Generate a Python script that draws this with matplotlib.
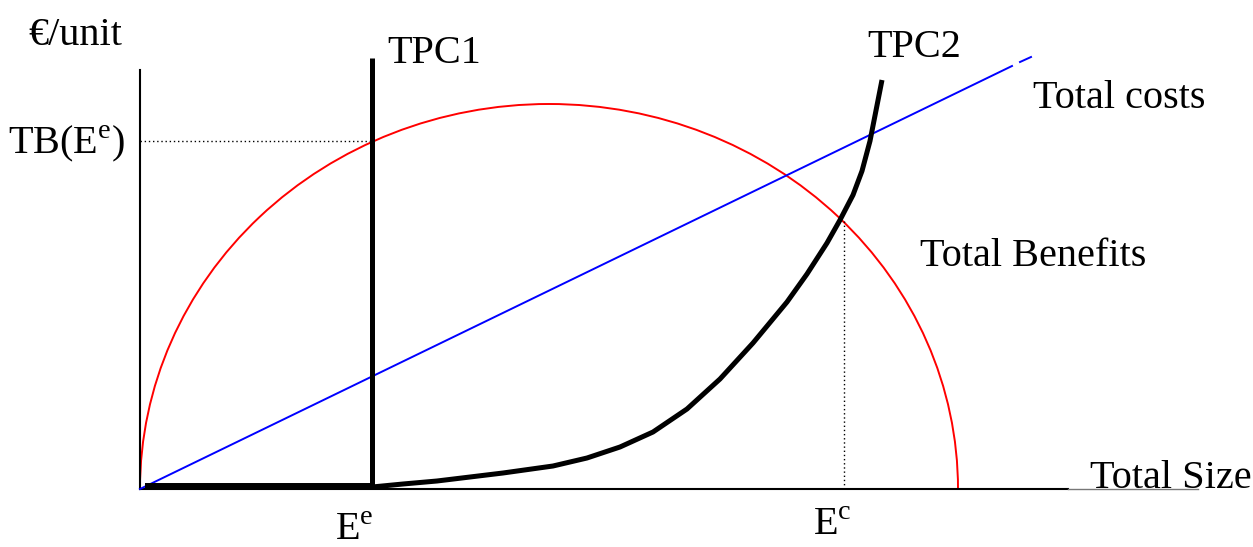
import matplotlib
matplotlib.use('Agg')
from matplotlib import pyplot as plt
from matplotlib.patches import Arc

plt.rcParams['font.family'] = ['Liberation Serif', 'DejaVu Serif']
plt.rcParams['mathtext.fontset'] = 'custom'
plt.rcParams['mathtext.rm'] = 'Liberation Serif'

# values (origin = where the two axes meet)
x_max = 928
y_max = 419
e_e = 232          # position of TPC1 / E^e
e_c = 704          # position of E^c
tb_ee = 348        # TB(E^e)
tb_center = 409
tb_halfwidth = 409
tb_height = 385
cost_x = [0, 872]
cost_y = [0, 423]
cost_tail_x = [880, 891]
cost_tail_y = [427, 432]
tpc1_top = 431
tpc2_x = [232, 263, 297, 330, 363, 413, 447, 480, 513, 547, 580, 613, 647, 667, 687, 700, 713, 722, 730, 742]
tpc2_y = [2, 5, 8, 12, 16, 23, 31, 42, 57, 80, 110, 146, 187, 215, 246, 269, 294, 318, 348, 409]
tb_ec = 268

fig = plt.figure(figsize=(12.53, 5.47), dpi=100)
ax = fig.add_axes([0, 0, 1, 1])
ax.set_xlim(-140, 1113)
ax.set_ylim(-58, 489)
ax.axis('off')

# axes
ax.plot([0, 0], [0, y_max], color='black', lw=1.5)
ax.plot([0, x_max], [0, 0], color='black', lw=1.5)
ax.plot([x_max, 1058], [0, 0], color='#777777', lw=1)

# total benefits (half ellipse)
ax.add_patch(Arc((tb_center, 0), 2 * tb_halfwidth, 2 * tb_height, theta1=0, theta2=180,
                 color='red', lw=1.4))

# total costs
ax.plot(cost_x, cost_y, color='blue', lw=1.4)
ax.plot(cost_tail_x, cost_tail_y, color='blue', lw=1.4)

# dotted guides
ax.plot([0, e_e], [tb_ee, tb_ee], color='black', lw=1, ls=(0, (1, 2)))
ax.plot([e_c, e_c], [0, tb_ec], color='black', lw=1, ls=(0, (1, 2)))

# TPC1 and TPC2
ax.plot([5, e_e], [3, 3], color='black', lw=4.3, solid_capstyle='butt')
ax.plot([e_e, e_e], [0, tpc1_top], color='black', lw=3.6, solid_capstyle='butt')
ax.plot(tpc2_x, tpc2_y, color='black', lw=3.6, solid_joinstyle='round', solid_capstyle='butt')

fs = 29
ax.text(-112, 444, '€/unit', fontsize=fs, ha='left', va='baseline')
ax.text(-132, 336, r'TB(E$^{\mathrm{e}}$)', fontsize=fs, ha='left', va='baseline')
ax.text(247, 426, 'TPC1', fontsize=fs, ha='left', va='baseline')
ax.text(727, 432, 'TPC2', fontsize=fs, ha='left', va='baseline')
ax.text(893, 381, 'Total costs', fontsize=fs, ha='left', va='baseline')
ax.text(780, 223, 'Total Benefits', fontsize=fs, ha='left', va='baseline')
ax.text(950, 1, 'Total Size', fontsize=fs, ha='left', va='baseline')
ax.text(195, -51, r'E$^{\mathrm{e}}$', fontsize=fs, ha='left', va='baseline')
ax.text(673, -46, r'E$^{\mathrm{c}}$', fontsize=fs, ha='left', va='baseline')

fig.savefig('out.png', dpi=100)
